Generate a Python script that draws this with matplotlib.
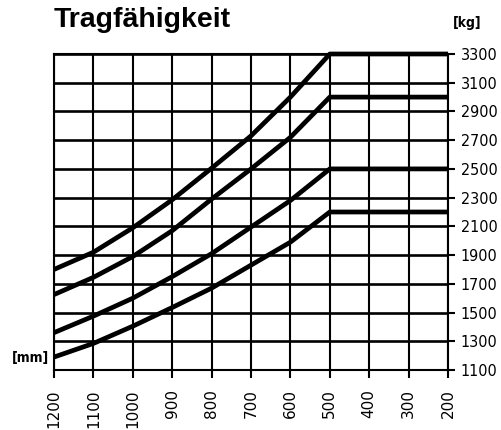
import matplotlib
matplotlib.use("Agg")
import matplotlib.pyplot as plt
from matplotlib import font_manager
from matplotlib.font_manager import FontProperties

# ---- data ----
reach_mm = [1200, 1100, 1000, 900, 800, 700, 600, 500, 400, 300, 200]
curve_a = [1800, 1920, 2090, 2285, 2505, 2730, 3000, 3300, 3300, 3300, 3300]
curve_b = [1625, 1745, 1890, 2070, 2290, 2500, 2720, 3000, 3000, 3000, 3000]
curve_c = [1360, 1475, 1600, 1750, 1910, 2095, 2280, 2500, 2500, 2500, 2500]
curve_d = [1190, 1285, 1405, 1535, 1670, 1830, 1990, 2200, 2200, 2200, 2200]
x_ticks = [1200, 1100, 1000, 900, 800, 700, 600, 500, 400, 300, 200]
y_ticks = [1100, 1300, 1500, 1700, 1900, 2100, 2300, 2500, 2700, 2900, 3100, 3300]
title = "Tragfähigkeit"
unit_y = "[kg]"
unit_x = "[mm]"

names = {f.name for f in font_manager.fontManager.ttflist}
sans = "Liberation Sans" if "Liberation Sans" in names else "DejaVu Sans"


def find_condensed(bold):
    want_w = 700 if bold else 400
    best = None
    for f in font_manager.fontManager.ttflist:
        st = str(f.stretch)
        is_cond = ("condensed" in st) or ("Narrow" in f.name) or ("Condensed" in f.name)
        if not is_cond or f.style != "normal":
            continue
        try:
            w = int(f.weight)
        except Exception:
            w = 700 if "bold" in str(f.weight) else 400
        score = abs(w - want_w)
        if "Liberation" in f.name:
            score -= 50
        if best is None or score < best[0]:
            best = (score, f.fname)
    if best is None:
        return FontProperties(family=sans, weight="bold" if bold else "normal")
    return FontProperties(fname=best[1])


narrow = find_condensed(False)
narrow_b = find_condensed(True)

W, H = 501, 430
fig = plt.figure(figsize=(W / 100, H / 100), dpi=100)
ax = fig.add_axes([54 / W, 1 - 370 / H, (448 - 54) / W, (370 - 54) / H])

ax.set_xlim(1200, 200)
ax.set_ylim(1100, 3300)

for xv in x_ticks:
    ax.axvline(xv, color="black", lw=1.5, zorder=1)
for yv in y_ticks:
    ax.axhline(yv, color="black", lw=1.9, zorder=1)

for c in (curve_a, curve_b, curve_c, curve_d):
    ax.plot(reach_mm, c, color="black", lw=3.4, solid_capstyle="butt",
            solid_joinstyle="round", zorder=3, clip_on=False)

for s in ax.spines.values():
    s.set_linewidth(1.5)

ax.set_xticks(x_ticks)
ax.set_xticklabels([str(v) for v in x_ticks], rotation=90, fontsize=11,
                   family="DejaVu Sans", va="top")
ax.yaxis.tick_right()
ax.set_yticks(y_ticks)
ax.set_yticklabels([str(v) for v in y_ticks])
for t in ax.get_yticklabels():
    fp = narrow.copy()
    fp.set_size(11.5)
    t.set_fontproperties(fp)
ax.tick_params(axis="x", direction="out", length=6, width=1.5, pad=8)
ax.tick_params(axis="y", direction="out", length=5, width=1.5, pad=4)

fig.text(54 / W, 1 - 27 / H, title, fontsize=20.5, fontweight="bold",
         family=sans, va="baseline", ha="left")
fpu = narrow_b.copy()
fpu.set_size(10)
fig.text(453 / W, 1 - 27 / H, unit_y, fontproperties=fpu,
         va="baseline", ha="left")
fig.text(12 / W, 1 - 358 / H, unit_x, fontproperties=fpu,
         va="center", ha="left")

fig.savefig("out.png", dpi=100)
